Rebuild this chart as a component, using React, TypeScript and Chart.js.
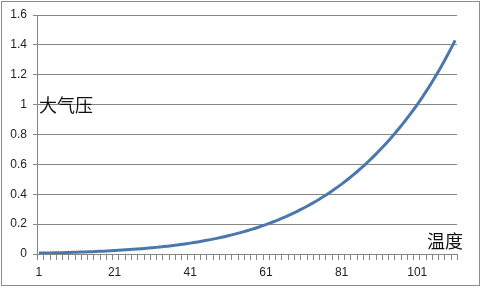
import React, { useEffect, useRef } from 'react';
import { Chart, registerables } from 'chart.js';

Chart.register(...registerables);

// Categories: temperature index 1..111
const categories: string[] = Array.from({ length: 111 }, (_, i) => String(i + 1));

// Vapour pressure (atm)
const pressure: number[] = [
  0.006, 0.0065, 0.007, 0.0075, 0.008, 0.0086, 0.0092, 0.0099, 0.0106, 0.0113,
  0.0121, 0.013, 0.0139, 0.0148, 0.0158, 0.0168, 0.018, 0.0191, 0.0204, 0.0217,
  0.0231, 0.0246, 0.0261, 0.0277, 0.0295, 0.0313, 0.0332, 0.0352, 0.0373, 0.0396,
  0.0419, 0.0444, 0.047, 0.0497, 0.0525, 0.0555, 0.0587, 0.062, 0.0654, 0.0691,
  0.0728, 0.0768, 0.081, 0.0853, 0.0899, 0.0947, 0.0996, 0.1048, 0.1102, 0.116,
  0.1219, 0.1281, 0.1345, 0.1412, 0.1482, 0.1555, 0.1631, 0.171, 0.1793, 0.1879,
  0.1969, 0.2062, 0.2158, 0.2258, 0.2363, 0.2471, 0.2584, 0.2701, 0.2823, 0.2949,
  0.3079, 0.3215, 0.3356, 0.3502, 0.3653, 0.381, 0.3971, 0.4139, 0.4313, 0.4494,
  0.4679, 0.4872, 0.5072, 0.5278, 0.5491, 0.5711, 0.5938, 0.6174, 0.6417, 0.6668,
  0.6926, 0.7194, 0.7469, 0.7754, 0.8047, 0.835, 0.8662, 0.8984, 0.9316, 0.9657,
  1.0, 1.037, 1.075, 1.114, 1.155, 1.197, 1.24, 1.285, 1.332, 1.38, 1.43,
];

const xTickLabels: string[] = ['1', '21', '41', '61', '81', '101'];
const yTicks: number[] = [0, 0.2, 0.4, 0.6, 0.8, 1, 1.2, 1.4, 1.6];

const GRAY = '#868686';
const FONT = "'Liberation Sans', Arial, sans-serif";
const CJK = "'Noto Sans CJK SC', sans-serif";

const decorPlugin = {
  id: 'decor',
  beforeDraw(chart: any) {
    const { ctx, width, height } = chart;
    ctx.save();
    ctx.fillStyle = '#ffffff';
    ctx.fillRect(0, 0, width, height);
    ctx.strokeStyle = '#8c8c8c';
    ctx.lineWidth = 1;
    ctx.strokeRect(1.5, 1.5, width - 3, height - 5);
    ctx.restore();
  },
  afterDraw(chart: any) {
    const { ctx } = chart;
    const xs = chart.scales.x;
    const n = 67;
    ctx.save();
    ctx.strokeStyle = GRAY;
    ctx.lineWidth = 1;
    ctx.beginPath();
    for (let k = 0; k <= n; k++) {
      const x = Math.round(xs.left + (k * (xs.right - xs.left)) / n) + 0.5;
      ctx.moveTo(x, xs.top);
      ctx.lineTo(x, xs.top + 6);
    }
    ctx.stroke();
    ctx.restore();
  },
};

export default function App() {
  const ref = useRef<HTMLCanvasElement>(null);

  useEffect(() => {
    if (!ref.current) return;
    const chart = new Chart(ref.current, {
      type: 'line',
      data: {
        labels: categories,
        datasets: [
          {
            data: pressure,
            borderColor: '#4a78ad',
            borderWidth: 3,
            pointRadius: 0,
            tension: 0,
            fill: false,
          },
        ],
      },
      options: {
        responsive: false,
        animation: false,
        layout: { padding: { top: 15, right: 24, left: 0, bottom: 0 } },
        plugins: { legend: { display: false }, tooltip: { enabled: false } },
        scales: {
          x: {
            type: 'category',
            offset: true,
            grid: {
              display: true,
              drawOnChartArea: false,
              drawTicks: true,
              tickLength: 6,
              color: 'rgba(0,0,0,0)',
            },
            border: { display: true, color: GRAY, width: 1 },
            ticks: {
              autoSkip: false,
              maxRotation: 0,
              minRotation: 0,
              padding: 5,
              color: '#222',
              font: { family: FONT, size: 12 },
              callback: (_v: any, i: number) =>
                xTickLabels.includes(categories[i]) ? categories[i] : '',
            },
            afterFit: (s: any) => {
              s.height = 35;
            },
          },
          y: {
            min: 0,
            max: 1.6,
            afterBuildTicks: (s: any) => {
              s.ticks = yTicks.map((v) => ({ value: v }));
            },
            grid: { color: GRAY, tickLength: 4, lineWidth: 1 },
            border: { display: true, color: GRAY, width: 1 },
            ticks: {
              padding: 6,
              color: '#222',
              font: { family: FONT, size: 12 },
              callback: (v: any) => String(Number(Number(v).toFixed(1))),
            },
            afterFit: (s: any) => {
              s.width = 37;
            },
          },
        },
      },
      plugins: [decorPlugin],
    });
    return () => chart.destroy();
  }, []);

  return (
    <div style={{ position: 'fixed', left: 0, top: 0, width: 481, height: 289, background: '#fff' }}>
      <canvas ref={ref} width={481} height={289} style={{ width: 481, height: 289, display: 'block' }} />
      <div
        style={{
          position: 'absolute',
          left: 39,
          top: 95,
          fontFamily: CJK,
          fontSize: 18,
          lineHeight: '18px',
          color: '#111',
          whiteSpace: 'nowrap',
        }}
      >
        大气压
      </div>
      <div
        style={{
          position: 'absolute',
          left: 427,
          top: 231,
          fontFamily: CJK,
          fontSize: 18,
          lineHeight: '18px',
          color: '#111',
          whiteSpace: 'nowrap',
        }}
      >
        温度
      </div>
    </div>
  );
}
